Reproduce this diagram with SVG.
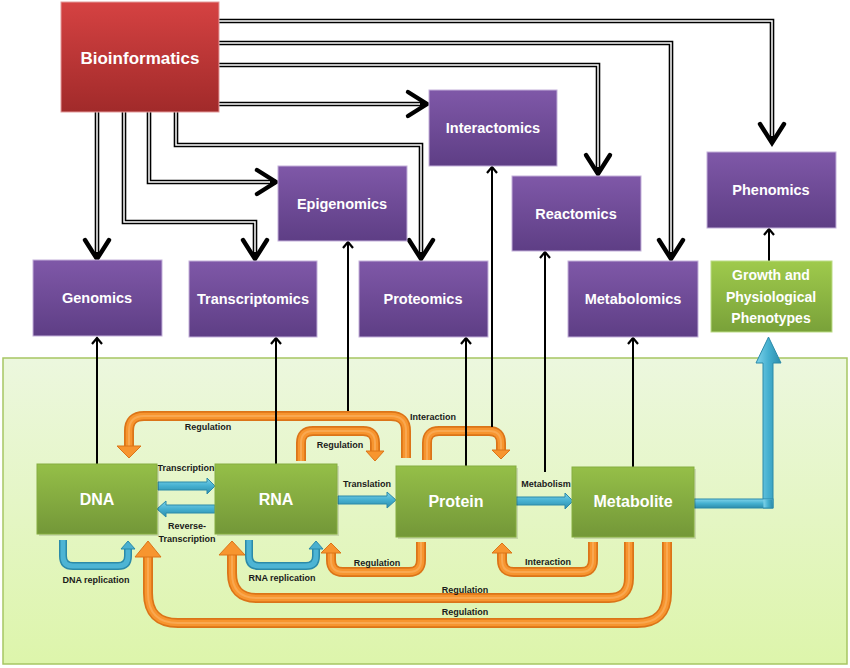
<svg xmlns="http://www.w3.org/2000/svg" xmlns:xlink="http://www.w3.org/1999/xlink" width="850" height="668" viewBox="0 0 850 668">
<defs>
<linearGradient id="gRed" x1="0" y1="0" x2="0" y2="1"><stop offset="0" stop-color="#d54242"/><stop offset="1" stop-color="#a12a2a"/></linearGradient>
<linearGradient id="gPur" x1="0" y1="0" x2="0" y2="1"><stop offset="0" stop-color="#7f58a8"/><stop offset="1" stop-color="#5e3e85"/></linearGradient>
<linearGradient id="gGrn" x1="0" y1="0" x2="0" y2="1"><stop offset="0" stop-color="#95bf48"/><stop offset="1" stop-color="#739738"/></linearGradient>
<linearGradient id="gGrow" x1="0" y1="0" x2="0" y2="1"><stop offset="0" stop-color="#9fca4c"/><stop offset="1" stop-color="#79a139"/></linearGradient>
<linearGradient id="gPanel" x1="0" y1="0" x2="0" y2="1"><stop offset="0" stop-color="#ecf7de"/><stop offset="1" stop-color="#ddf5ab"/></linearGradient>
<linearGradient id="gBlueH" x1="0" y1="0" x2="0" y2="1"><stop offset="0" stop-color="#7fd3ea"/><stop offset="0.5" stop-color="#45b0d0"/><stop offset="1" stop-color="#2d8cab"/></linearGradient>
<linearGradient id="gBlueV" x1="0" y1="0" x2="1" y2="0"><stop offset="0" stop-color="#7fd3ea"/><stop offset="0.5" stop-color="#45b0d0"/><stop offset="1" stop-color="#2d8cab"/></linearGradient>
<marker id="sa" viewBox="-8 -6 10 12" refX="0" refY="0" markerWidth="10" markerHeight="12" markerUnits="userSpaceOnUse" orient="auto"><path d="M-6,-5 L0,0 L-6,5" fill="none" stroke="#000" stroke-width="2.2"/></marker>
<style>
.box{stroke-width:1}
.bio{fill:url(#gRed);stroke:#e49a9a}
.pur{fill:url(#gPur);stroke:#c3b0da}
.grn{fill:url(#gGrn);stroke:#86ad40}
.grow{fill:url(#gGrow);stroke:#bcdc85}
.shd{fill:#000;opacity:0.12}
.nt{font-family:"Liberation Sans",Arial,sans-serif;font-weight:bold;fill:#fff;text-anchor:middle}
.lbl{font-family:"Liberation Sans",Arial,sans-serif;font-weight:bold;font-size:9px;fill:#1a1a1a;text-anchor:middle}
.dbo{fill:none;stroke:#000;stroke-width:4.6;stroke-linejoin:miter}
.dbi{fill:none;stroke:#fff;stroke-width:1.5;stroke-linejoin:miter}
.chev{fill:none;stroke:#000;stroke-width:4.4;stroke-linecap:round;stroke-linejoin:miter}
.sl{fill:none;stroke:#000;stroke-width:2;marker-end:url(#sa)}
.ob{fill:none;stroke:#db7418;stroke-width:10}
.oi{fill:none;stroke:#f7952f;stroke-width:6.5}
.oh{fill:none;stroke:#f9a850;stroke-width:2}
.ohd{fill:#f7952f;stroke:#db7418;stroke-width:1}
.bb{fill:none;stroke:#2b8aa9;stroke-width:8}
.bi{fill:none;stroke:#4db4d4;stroke-width:5}
.bh{fill:#4bb0d0;stroke:#2b8aa9;stroke-width:1}
.bfl{stroke:#2b8aa9;stroke-width:1}
</style>
</defs>
<rect id="panel" x="3" y="358" width="844" height="306" fill="url(#gPanel)" stroke="#a6c663" stroke-width="1.5"/>
<g id="connectors">
<g id="double-lines">
<path class="dbo" d="M219,21 H772 V142"/><path class="dbi" d="M219,21 H772 V136"/>
<path class="dbo" d="M219,43 H671 V258"/><path class="dbi" d="M219,43 H671 V252"/>
<path class="dbo" d="M219,65 H598 V173"/><path class="dbi" d="M219,65 H598 V167"/>
<path class="dbo" d="M219,104 H426"/><path class="dbi" d="M219,104 H420"/>
<path class="dbo" d="M176,112 V145 H421 V258"/><path class="dbi" d="M176,112 V145 H421 V252"/>
<path class="dbo" d="M149,112 V182 H276"/><path class="dbi" d="M149,112 V182 H270"/>
<path class="dbo" d="M124,112 V222 H255 V258"/><path class="dbi" d="M124,112 V222 H255 V252"/>
<path class="dbo" d="M97,112 V258"/><path class="dbi" d="M97,112 V252"/>
<polyline class="chev" points="760,124 772,143 784,124"/>
<polyline class="chev" points="659,240 671,259 683,240"/>
<polyline class="chev" points="586,155 598,174 610,155"/>
<polyline class="chev" points="408,92 427,104 408,116"/>
<polyline class="chev" points="409,240 421,259 433,240"/>
<polyline class="chev" points="257,170 276,182 257,194"/>
<polyline class="chev" points="243,240 255,259 267,240"/>
<polyline class="chev" points="85,240 97,259 109,240"/>
</g>
<g id="orange-arrows">
<path class="ob" d="M406,458 V431 Q406,416 391,416 H144 Q129,416 129,431 V446"/><path class="oi" d="M406,458 V431 Q406,416 391,416 H144 Q129,416 129,431 V446"/><path class="oh" d="M406,458 V431 Q406,416 391,416 H144 Q129,416 129,431 V446"/>
<polygon class="ohd" points="117,446 141,446 129,458"/>
<path class="ob" d="M301,461 V443 Q301,431 313,431 H363 Q375,431 375,443 V451"/><path class="oi" d="M301,461 V443 Q301,431 313,431 H363 Q375,431 375,443 V451"/><path class="oh" d="M301,461 V443 Q301,431 313,431 H363 Q375,431 375,443 V451"/>
<polygon class="ohd" points="366,451 384,451 375,461"/>
<path class="ob" d="M427,460 V443 Q427,431 439,431 H489 Q501,431 501,443 V450"/><path class="oi" d="M427,460 V443 Q427,431 439,431 H489 Q501,431 501,443 V450"/><path class="oh" d="M427,460 V443 Q427,431 439,431 H489 Q501,431 501,443 V450"/>
<polygon class="ohd" points="492,450 510,450 501,459"/>
<path class="ob" d="M421,542 V560 Q421,572 409,572 H343 Q331,572 331,560 V553"/><path class="oi" d="M421,542 V560 Q421,572 409,572 H343 Q331,572 331,560 V553"/><path class="oh" d="M421,542 V560 Q421,572 409,572 H343 Q331,572 331,560 V553"/>
<polygon class="ohd" points="321,553 341,553 331,543"/>
<path class="ob" d="M593,542 V560 Q593,572 581,572 H514 Q502,572 502,560 V553"/><path class="oi" d="M593,542 V560 Q593,572 581,572 H514 Q502,572 502,560 V553"/><path class="oh" d="M593,542 V560 Q593,572 581,572 H514 Q502,572 502,560 V553"/>
<polygon class="ohd" points="492,553 512,553 502,543"/>
<path class="ob" d="M629,542 V578 Q629,598 609,598 H257 Q232,598 232,573 V555"/><path class="oi" d="M629,542 V578 Q629,598 609,598 H257 Q232,598 232,573 V555"/><path class="oh" d="M629,542 V578 Q629,598 609,598 H257 Q232,598 232,573 V555"/>
<polygon class="ohd" points="219,555 245,555 232,541"/>
<path class="ob" d="M667,542 V593 Q667,623 637,623 H178 Q148,623 148,593 V557"/><path class="oi" d="M667,542 V593 Q667,623 637,623 H178 Q148,623 148,593 V557"/><path class="oh" d="M667,542 V593 Q667,623 637,623 H178 Q148,623 148,593 V557"/>
<polygon class="ohd" points="135,557 161,557 148,541"/>
</g>
<g id="blue-arrows">
<polygon class="bfl" fill="url(#gBlueH)" points="158,482 207,482 207,478 215,486 207,494 207,490 158,490"/>
<polygon class="bfl" fill="url(#gBlueH)" points="215,505 166,505 166,501 157,509 166,517 166,513 215,513"/>
<polygon class="bfl" fill="url(#gBlueH)" points="338,496 387,496 387,492 396,500 387,508 387,504 338,504"/>
<polygon class="bfl" fill="url(#gBlueH)" points="516,497 565,497 565,493 573,501 565,509 565,505 516,505"/>
<polygon class="bfl" fill="url(#gBlueV)" points="763,508 763,363 756,363 768.5,337 781,363 773,363 773,508"/>
<rect class="bfl" fill="url(#gBlueH)" x="694" y="499" width="79" height="9"/>
<rect fill="url(#gBlueV)" x="763.5" y="499.5" width="9" height="8"/>
<path class="bb" d="M63,540 V556 Q63,566 73,566 H118 Q128,566 128,556 V549"/><path class="bi" d="M63,540 V556 Q63,566 73,566 H118 Q128,566 128,556 V549"/>
<polygon class="bh" points="121,549 135,549 128,541"/>
<path class="bb" d="M249,540 V556 Q249,566 259,566 H306 Q316,566 316,556 V549"/><path class="bi" d="M249,540 V556 Q249,566 259,566 H306 Q316,566 316,556 V549"/>
<polygon class="bh" points="309,549 323,549 316,541"/>
</g>
<g id="single-lines">
<path class="sl" d="M97,464 V338"/>
<path class="sl" d="M276,464 V338"/>
<path class="sl" d="M348,411 V242"/>
<path class="sl" d="M466,466 V338"/>
<path class="sl" d="M492,427 V167"/>
<path class="sl" d="M545,472 V252"/>
<path class="sl" d="M633,467 V338"/>
<path class="sl" d="M769,261 V229"/>
</g>
<g id="connector-labels">
<text class="lbl" x="208" y="430">Regulation</text>
<text class="lbl" x="340" y="448">Regulation</text>
<text class="lbl" x="433" y="420">Interaction</text>
<text class="lbl" x="186" y="471">Transcription</text>
<text class="lbl" x="367" y="487">Translation</text>
<text class="lbl" x="187" y="529">Reverse-</text>
<text class="lbl" x="187" y="542">Transcription</text>
<text class="lbl" x="546" y="487">Metabolism</text>
<text class="lbl" x="96" y="583">DNA replication</text>
<text class="lbl" x="282" y="581">RNA replication</text>
<text class="lbl" x="377" y="566">Regulation</text>
<text class="lbl" x="548" y="565">Interaction</text>
<text class="lbl" x="465" y="593">Regulation</text>
<text class="lbl" x="465" y="615">Regulation</text>
</g>
</g>
<g id="bioinformatics"><rect class="box bio" x="61" y="2" width="158" height="110"/><text class="nt" x="140" y="64" font-size="17">Bioinformatics</text></g>
<g id="interactomics"><rect class="box pur" x="429" y="90" width="128" height="76"/><text class="nt" x="493" y="133" font-size="14.5">Interactomics</text></g>
<g id="reactomics"><rect class="box pur" x="512" y="176" width="129" height="75"/><text class="nt" x="576" y="219" font-size="14.5">Reactomics</text></g>
<g id="phenomics"><rect class="box pur" x="707" y="152" width="129" height="76"/><text class="nt" x="771" y="195" font-size="14.5">Phenomics</text></g>
<g id="epigenomics"><rect class="box pur" x="278" y="166" width="129" height="75"/><text class="nt" x="342" y="209" font-size="14.5">Epigenomics</text></g>
<g id="genomics"><rect class="box pur" x="33" y="260" width="129" height="76"/><text class="nt" x="97" y="303" font-size="14.5">Genomics</text></g>
<g id="transcriptomics"><rect class="box pur" x="189" y="261" width="128" height="76"/><text class="nt" x="253" y="304" font-size="14.5">Transcriptomics</text></g>
<g id="proteomics"><rect class="box pur" x="359" y="261" width="129" height="76"/><text class="nt" x="423" y="304" font-size="14.5">Proteomics</text></g>
<g id="metabolomics"><rect class="box pur" x="568" y="261" width="130" height="76"/><text class="nt" x="633" y="304" font-size="14.5">Metabolomics</text></g>
<g id="growth"><rect class="box grow" x="711" y="261" width="121" height="71"/><text class="nt" font-size="14"><tspan x="771" y="280">Growth and</tspan><tspan x="771" y="302">Physiological</tspan><tspan x="771" y="323">Phenotypes</tspan></text></g>
<g id="dna"><rect class="shd" x="39" y="466" width="120" height="70"/><rect class="box grn" x="37" y="464" width="120" height="70"/><text class="nt" x="97" y="505" font-size="16">DNA</text></g>
<g id="rna"><rect class="shd" x="217" y="466" width="122" height="70"/><rect class="box grn" x="215" y="464" width="122" height="70"/><text class="nt" x="276" y="505" font-size="16">RNA</text></g>
<g id="protein"><rect class="shd" x="398" y="468" width="120" height="71"/><rect class="box grn" x="396" y="466" width="120" height="71"/><text class="nt" x="456" y="507" font-size="16">Protein</text></g>
<g id="metabolite"><rect class="shd" x="574" y="469" width="122" height="70"/><rect class="box grn" x="572" y="467" width="122" height="70"/><text class="nt" x="633" y="507" font-size="16">Metabolite</text></g>
</svg>
